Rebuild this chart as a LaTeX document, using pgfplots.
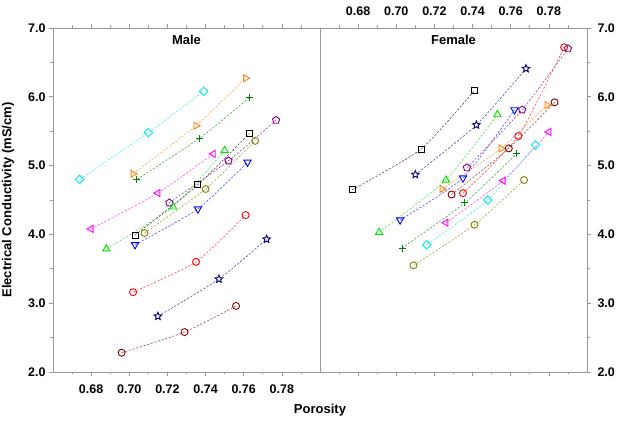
\documentclass[border=0pt]{standalone}
\usepackage{fontspec}
\setmainfont{Liberation Sans}
\usepackage{pgfplots}
\pgfplotsset{compat=1.18}
\usetikzlibrary{plotmarks}

\definecolor{cCyan}{HTML}{00E5EE}
\definecolor{cOrange}{HTML}{FF7F0E}
\definecolor{cDkGreen}{HTML}{008000}
\definecolor{cPurple}{HTML}{800080}
\definecolor{cMagenta}{HTML}{FF00FF}
\definecolor{cLime}{HTML}{00E000}
\definecolor{cOlive}{HTML}{808000}
\definecolor{cBlue}{HTML}{0000FF}
\definecolor{cRed}{HTML}{FF0000}
\definecolor{cNavy}{HTML}{000080}
\definecolor{cDkRed}{HTML}{800000}

% five-pointed open star
\pgfdeclareplotmark{fivestar}{%
  \pgfpathmoveto{\pgfpointpolar{90}{\pgfplotmarksize}}%
  \pgfpathlineto{\pgfpointpolar{126}{0.45\pgfplotmarksize}}%
  \pgfpathlineto{\pgfpointpolar{162}{\pgfplotmarksize}}%
  \pgfpathlineto{\pgfpointpolar{198}{0.45\pgfplotmarksize}}%
  \pgfpathlineto{\pgfpointpolar{234}{\pgfplotmarksize}}%
  \pgfpathlineto{\pgfpointpolar{270}{0.45\pgfplotmarksize}}%
  \pgfpathlineto{\pgfpointpolar{306}{\pgfplotmarksize}}%
  \pgfpathlineto{\pgfpointpolar{342}{0.45\pgfplotmarksize}}%
  \pgfpathlineto{\pgfpointpolar{18}{\pgfplotmarksize}}%
  \pgfpathlineto{\pgfpointpolar{54}{0.45\pgfplotmarksize}}%
  \pgfpathclose\pgfusepathqfillstroke}

\pgfplotsset{
  panel/.style={
    width=267pt, height=344pt, scale only axis,
    xmin=0.66, xmax=0.80, ymin=2, ymax=7,
    xtick={0.68,0.70,0.72,0.74,0.76,0.78},
    minor xtick={0.67,0.69,0.71,0.73,0.75,0.77,0.79},
    ytick={2,3,4,5,6,7},
    minor ytick={2.5,3.5,4.5,5.5,6.5},
    tick align=outside,
    major tick length=4pt, minor tick length=2.5pt,
    axis line style={gray!80, line width=0.6pt},
    tick style={gray!80, line width=0.6pt},
    xticklabel style={/pgf/number format/fixed, /pgf/number format/fixed zerofill, /pgf/number format/precision=2},
    yticklabel style={/pgf/number format/fixed, /pgf/number format/fixed zerofill, /pgf/number format/precision=1},
    /pgf/number format/assume math mode=true,
    ticklabel style={font=\fontsize{12.5}{14}\selectfont\bfseries},
    clip=false,
  },
  ser/.style n args={3}{
    draw=#1!75, mark=#2, smooth, tension=0.35,
    line width=0.55pt, dash pattern=on 2.2pt off 1.6pt,
    mark options={solid, draw=#1, fill=white, line width=0.9pt, #3},
  },
}

\begin{document}
\begin{tikzpicture}
% ---------------- Male ----------------
\begin{axis}[panel, at={(0pt,0pt)},
  xtick pos=both, xticklabel pos=lower,
  ytick pos=left, yticklabel pos=left,
  xticklabel style={yshift=-5pt}]
\addplot[ser={cCyan}{diamond}{xscale=1.35}, mark size=4.2pt] coordinates {(0.674,4.80) (0.710,5.48) (0.739,6.08)};
\addplot[ser={cOrange}{triangle}{rotate=-90}, mark size=4pt] coordinates {(0.702,4.88) (0.735,5.58) (0.761,6.27)};
\addplot[ser={cDkGreen}{+}{}, mark size=3.5pt] coordinates {(0.704,4.80) (0.737,5.40) (0.763,5.99)};
\addplot[ser={cPurple}{pentagon}{}, mark size=3.8pt] coordinates {(0.721,4.46) (0.752,5.07) (0.777,5.66)};
\addplot[ser={cMagenta}{triangle}{rotate=90}, mark size=4pt] coordinates {(0.680,4.08) (0.715,4.60) (0.744,5.17)};
\addplot[ser={cLime}{triangle}{}, mark size=4.2pt] coordinates {(0.688,3.79) (0.723,4.40) (0.750,5.22)};
\addplot[ser={black}{square}{}, mark size=3pt] coordinates {(0.703,3.99) (0.736,4.72) (0.763,5.47)};
\addplot[ser={cOlive}{o}{}, mark size=3.5pt] coordinates {(0.708,4.02) (0.740,4.66) (0.766,5.36)};
\addplot[ser={cBlue}{triangle}{rotate=180}, mark size=4.2pt] coordinates {(0.703,3.85) (0.736,4.37) (0.762,5.05)};
\addplot[ser={cRed}{o}{}, mark size=3.5pt] coordinates {(0.702,3.16) (0.735,3.60) (0.761,4.28)};
\addplot[ser={cNavy}{fivestar}{}, mark size=4pt] coordinates {(0.715,2.81) (0.747,3.35) (0.772,3.93)};
\addplot[ser={cDkRed}{o}{}, mark size=3.5pt] coordinates {(0.696,2.28) (0.729,2.58) (0.756,2.96)};
\node[font=\fontsize{13}{15}\selectfont\bfseries, anchor=north, inner sep=0pt]
  at (rel axis cs:0.5,1) [yshift=-7pt] {Male};
\end{axis}
% ---------------- Female ----------------
\begin{axis}[panel, at={(267pt,0pt)},
  xtick pos=both, xticklabel pos=upper,
  ytick pos=right, yticklabel pos=right,
  xticklabel style={yshift=5pt}, yticklabel style={xshift=3pt}]
\addplot[ser={black}{square}{}, mark size=3pt] coordinates {(0.677,4.65) (0.713,5.24) (0.741,6.09)};
\addplot[ser={cNavy}{fivestar}{}, mark size=4pt] coordinates {(0.710,4.87) (0.742,5.59) (0.768,6.41)};
\addplot[ser={cLime}{triangle}{}, mark size=4.2pt] coordinates {(0.691,4.03) (0.726,4.79) (0.753,5.74)};
\addplot[ser={cBlue}{triangle}{rotate=180}, mark size=4.2pt] coordinates {(0.702,4.21) (0.735,4.82) (0.762,5.81)};
\addplot[ser={cOrange}{triangle}{rotate=-90}, mark size=4pt] coordinates {(0.724,4.66) (0.755,5.25) (0.779,5.88)};
\addplot[ser={cDkRed}{o}{}, mark size=3.5pt] coordinates {(0.729,4.58) (0.759,5.25) (0.783,5.92)};
\addplot[ser={cDkGreen}{+}{}, mark size=3.5pt] coordinates {(0.703,3.80) (0.736,4.46) (0.763,5.17)};
\addplot[ser={cMagenta}{triangle}{rotate=90}, mark size=4pt] coordinates {(0.726,4.17) (0.756,4.78) (0.780,5.49)};
\addplot[ser={cCyan}{diamond}{xscale=1.35}, mark size=4.2pt] coordinates {(0.716,3.85) (0.748,4.50) (0.773,5.30)};
\addplot[ser={cOlive}{o}{}, mark size=3.5pt] coordinates {(0.709,3.55) (0.741,4.14) (0.767,4.79)};
\addplot[ser={cPurple}{pentagon}{}, mark size=3.8pt] coordinates {(0.737,4.97) (0.766,5.81) (0.790,6.70)};
\addplot[ser={cRed}{o}{}, mark size=3.5pt] coordinates {(0.735,4.60) (0.764,5.43) (0.788,6.72)};
\node[font=\fontsize{13}{15}\selectfont\bfseries, anchor=north, inner sep=0pt]
  at (rel axis cs:0.5,1) [yshift=-7pt] {Female};
\end{axis}
% shared labels
\node[font=\fontsize{13}{15}\selectfont\bfseries, rotate=90] at (-45pt,172pt)
  {Electrical Conductivity (mS/cm)};
\node[font=\fontsize{13}{15}\selectfont\bfseries] at (267pt,-38pt) {Porosity};
\pgfresetboundingbox
\path[use as bounding box] (-53pt,-50pt) rectangle (569pt,372pt);
\end{tikzpicture}
\end{document}
